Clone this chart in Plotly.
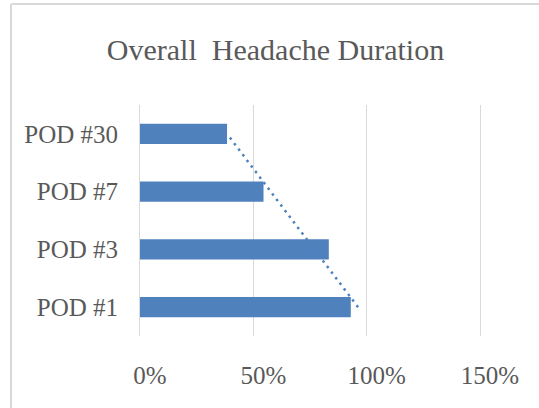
import numpy as np
import plotly.graph_objects as go

# Share of patients reporting headache, by post-operative day
categories = ["POD #1", "POD #3", "POD #7", "POD #30"]
values = [0.93, 0.833, 0.545, 0.384]
x_ticks = [0, 0.5, 1.0, 1.5]
x_tick_labels = ["0%", "50%", "100%", "150%"]

BAR_COLOR = "#4f81bd"
TEXT_COLOR = "#595959"
GRID_COLOR = "#d9d9d9"
FONT = "Liberation Serif, Times New Roman, serif"

# Linear trend over category positions (1..n), as a spreadsheet trendline would
pos = np.arange(1, len(values) + 1)
slope, intercept = np.polyfit(pos, values, 1)
trend = slope * pos + intercept

fig = go.Figure()
fig.add_trace(go.Bar(
    x=values, y=categories, orientation="h",
    marker=dict(color=BAR_COLOR, line=dict(width=0)),
    showlegend=False, hoverinfo="x+y",
))
fig.add_trace(go.Scatter(
    x=trend, y=categories, mode="lines",
    line=dict(color=BAR_COLOR, width=2.5, dash="2.5px,4.5px"),
    showlegend=False, hoverinfo="skip",
))

W, H = 539, 408
m_l, m_r, m_t, m_b = 140, 59, 105, 72
plot_w = W - m_l - m_r
plot_h = H - m_t - m_b

# Outer chart frame (left and top edges visible)
frame_x = (11 - m_l) / plot_w
frame_y = 1 + (m_t - 4) / plot_h

fig.update_layout(
    width=W, height=H,
    margin=dict(l=m_l, r=m_r, t=m_t, b=m_b, pad=0),
    paper_bgcolor="white", plot_bgcolor="white",
    bargap=0.65,
    font=dict(family=FONT, color=TEXT_COLOR),
    title=dict(
        text="Overall  Headache Duration",
        font=dict(family=FONT, size=30, color=TEXT_COLOR),
        xref="container", yref="container",
        x=275.5 / W, xanchor="center",
        y=1 - 49 / H, yanchor="middle",
    ),
    xaxis=dict(
        range=[0, 1.5], tickvals=x_ticks, ticktext=x_tick_labels,
        showgrid=True, gridcolor=GRID_COLOR, gridwidth=1,
        zeroline=False, showline=False, ticks="",
        tickfont=dict(family=FONT, size=25, color=TEXT_COLOR),
        ticklabelstandoff=22, ticklabelshift=10,
        fixedrange=True,
    ),
    yaxis=dict(
        categoryorder="array", categoryarray=categories,
        range=[-0.5, 3.5],
        showgrid=False, zeroline=False, ticks="",
        # vertical lines at the 0% and 150% edges of the value axis
        showline=True, mirror=True, linecolor=GRID_COLOR, linewidth=1,
        tickfont=dict(family=FONT, size=25, color=TEXT_COLOR),
        ticklabelstandoff=16,
        fixedrange=True,
    ),
    shapes=[
        dict(type="line", xref="paper", yref="paper",
             x0=frame_x, x1=frame_x, y0=-1, y1=frame_y,
             line=dict(color=GRID_COLOR, width=2)),
        dict(type="line", xref="paper", yref="paper",
             x0=frame_x, x1=2, y0=frame_y, y1=frame_y,
             line=dict(color=GRID_COLOR, width=2)),
    ],
)

fig.write_html("out.html")
